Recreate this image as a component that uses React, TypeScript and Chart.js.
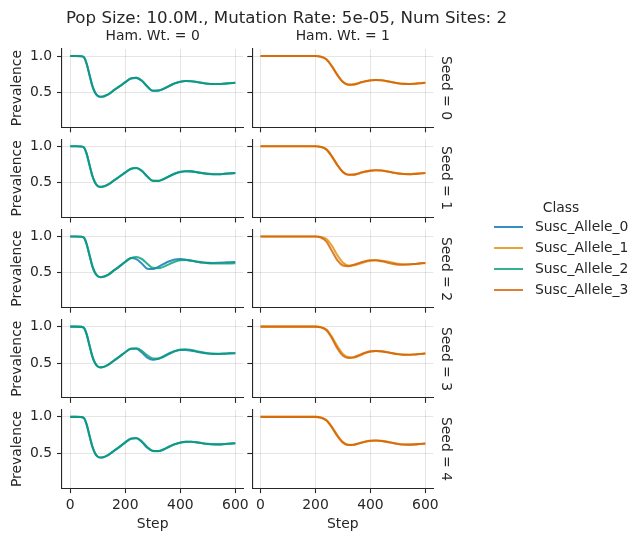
import React, { useEffect, useRef } from 'react';
import { Chart, registerables } from 'chart.js';

Chart.register(...registerables);

const FONT = "'DejaVu Sans', 'Liberation Sans', sans-serif";
const TEXT = '#262626';
Chart.defaults.font.family = FONT;

// ---------- data ----------
const steps = [0, 20, 40, 50, 60, 70, 80, 90, 100, 110, 120, 130, 140, 160, 180, 200, 220, 240, 260, 280, 300, 320, 340, 360, 380, 400, 420, 440, 460, 480, 500, 520, 540, 560, 580, 600];
const seeds = [0, 1, 2, 3, 4];
const hamWts = [0, 1];
const classes = ['Susc_Allele_0', 'Susc_Allele_1', 'Susc_Allele_2', 'Susc_Allele_3'];
const classColors = ['rgba(1,115,178,0.8)', 'rgba(222,143,5,0.8)', 'rgba(2,158,115,0.8)', 'rgba(213,94,0,0.8)'];
const xTicks = [0, 200, 400, 600];
const yTicks = [0.5, 1.0];

// Ham. Wt. = 0 (Susc_Allele_0, Susc_Allele_2)
const s0_a0 = [1.000, 1.000, 0.997, 0.982, 0.890, 0.740, 0.595, 0.500, 0.452, 0.440, 0.445, 0.459, 0.477, 0.535, 0.585, 0.640, 0.690, 0.700, 0.660, 0.580, 0.522, 0.525, 0.552, 0.590, 0.625, 0.647, 0.656, 0.653, 0.643, 0.630, 0.620, 0.615, 0.616, 0.621, 0.627, 0.633];
const s0_a2 = [1.000, 1.000, 0.997, 0.981, 0.888, 0.738, 0.593, 0.499, 0.451, 0.440, 0.445, 0.459, 0.477, 0.534, 0.586, 0.641, 0.691, 0.701, 0.662, 0.582, 0.523, 0.524, 0.550, 0.588, 0.624, 0.647, 0.657, 0.654, 0.644, 0.631, 0.620, 0.615, 0.615, 0.620, 0.626, 0.632];
const s1_a0 = [1.000, 1.000, 0.997, 0.983, 0.892, 0.743, 0.598, 0.502, 0.453, 0.441, 0.445, 0.459, 0.478, 0.533, 0.584, 0.638, 0.688, 0.700, 0.663, 0.585, 0.525, 0.523, 0.549, 0.587, 0.623, 0.646, 0.656, 0.654, 0.644, 0.631, 0.621, 0.616, 0.616, 0.621, 0.627, 0.632];
const s1_a2 = [1.000, 1.000, 0.997, 0.982, 0.891, 0.741, 0.596, 0.501, 0.452, 0.440, 0.445, 0.460, 0.479, 0.535, 0.586, 0.640, 0.690, 0.701, 0.662, 0.583, 0.524, 0.524, 0.550, 0.589, 0.625, 0.648, 0.657, 0.654, 0.643, 0.630, 0.620, 0.615, 0.615, 0.620, 0.626, 0.631];
const s2_a0 = [1.000, 1.000, 0.997, 0.982, 0.890, 0.740, 0.595, 0.500, 0.452, 0.440, 0.445, 0.460, 0.480, 0.536, 0.592, 0.652, 0.703, 0.688, 0.628, 0.556, 0.552, 0.582, 0.622, 0.658, 0.682, 0.688, 0.680, 0.666, 0.652, 0.642, 0.637, 0.636, 0.638, 0.641, 0.645, 0.648];
const s2_a2 = [1.000, 1.000, 0.997, 0.982, 0.890, 0.740, 0.595, 0.500, 0.452, 0.440, 0.445, 0.460, 0.480, 0.536, 0.592, 0.650, 0.700, 0.718, 0.690, 0.625, 0.568, 0.562, 0.585, 0.620, 0.652, 0.672, 0.676, 0.668, 0.655, 0.642, 0.633, 0.628, 0.627, 0.628, 0.630, 0.632];
const s3_a0 = [1.000, 1.000, 0.997, 0.982, 0.890, 0.740, 0.595, 0.500, 0.452, 0.440, 0.445, 0.460, 0.480, 0.536, 0.590, 0.648, 0.695, 0.697, 0.645, 0.575, 0.545, 0.558, 0.595, 0.635, 0.665, 0.680, 0.680, 0.670, 0.655, 0.641, 0.631, 0.626, 0.625, 0.628, 0.632, 0.635];
const s3_a2 = [1.000, 1.000, 0.997, 0.982, 0.890, 0.740, 0.595, 0.500, 0.452, 0.440, 0.445, 0.460, 0.480, 0.536, 0.590, 0.648, 0.695, 0.702, 0.668, 0.605, 0.563, 0.560, 0.585, 0.625, 0.660, 0.684, 0.690, 0.680, 0.663, 0.646, 0.634, 0.628, 0.627, 0.629, 0.633, 0.636];
const s4_a0 = [1.000, 1.000, 0.997, 0.982, 0.890, 0.740, 0.595, 0.500, 0.452, 0.440, 0.445, 0.460, 0.480, 0.536, 0.590, 0.648, 0.700, 0.705, 0.655, 0.575, 0.530, 0.530, 0.555, 0.592, 0.625, 0.647, 0.657, 0.657, 0.649, 0.637, 0.627, 0.621, 0.621, 0.626, 0.632, 0.638];
const s4_a2 = [1.000, 1.000, 0.997, 0.982, 0.890, 0.740, 0.595, 0.500, 0.452, 0.440, 0.445, 0.460, 0.480, 0.536, 0.590, 0.648, 0.700, 0.708, 0.665, 0.585, 0.532, 0.527, 0.550, 0.588, 0.622, 0.645, 0.656, 0.657, 0.650, 0.638, 0.628, 0.622, 0.621, 0.625, 0.631, 0.637];

// Ham. Wt. = 1 (Susc_Allele_1, Susc_Allele_3)
const s0_a1 = [1.000, 1.000, 1.000, 1.000, 1.000, 1.000, 1.000, 1.000, 1.000, 1.000, 1.000, 1.000, 1.000, 1.000, 1.000, 1.000, 0.990, 0.955, 0.860, 0.740, 0.645, 0.607, 0.610, 0.630, 0.651, 0.665, 0.670, 0.667, 0.655, 0.640, 0.626, 0.618, 0.616, 0.620, 0.627, 0.633];
const s0_a3 = [1.000, 1.000, 1.000, 1.000, 1.000, 1.000, 1.000, 1.000, 1.000, 1.000, 1.000, 1.000, 1.000, 1.000, 1.000, 1.000, 0.990, 0.953, 0.857, 0.737, 0.643, 0.606, 0.610, 0.631, 0.652, 0.666, 0.670, 0.666, 0.654, 0.639, 0.625, 0.617, 0.616, 0.620, 0.627, 0.632];
const s1_a1 = [1.000, 1.000, 1.000, 1.000, 1.000, 1.000, 1.000, 1.000, 1.000, 1.000, 1.000, 1.000, 1.000, 1.000, 1.000, 1.000, 0.991, 0.957, 0.862, 0.742, 0.647, 0.608, 0.610, 0.629, 0.650, 0.664, 0.669, 0.666, 0.655, 0.640, 0.627, 0.619, 0.617, 0.620, 0.626, 0.632];
const s1_a3 = [1.000, 1.000, 1.000, 1.000, 1.000, 1.000, 1.000, 1.000, 1.000, 1.000, 1.000, 1.000, 1.000, 1.000, 1.000, 1.000, 0.990, 0.954, 0.858, 0.738, 0.644, 0.607, 0.610, 0.630, 0.651, 0.665, 0.670, 0.666, 0.654, 0.640, 0.626, 0.618, 0.616, 0.620, 0.626, 0.632];
const s2_a1 = [1.000, 1.000, 1.000, 1.000, 1.000, 1.000, 1.000, 1.000, 1.000, 1.000, 1.000, 1.000, 1.000, 1.000, 1.000, 1.000, 0.993, 0.965, 0.870, 0.740, 0.640, 0.600, 0.603, 0.625, 0.650, 0.667, 0.673, 0.667, 0.655, 0.640, 0.625, 0.618, 0.618, 0.622, 0.628, 0.633];
const s2_a3 = [1.000, 1.000, 1.000, 1.000, 1.000, 1.000, 1.000, 1.000, 1.000, 1.000, 1.000, 1.000, 1.000, 1.000, 1.000, 1.000, 0.985, 0.930, 0.800, 0.670, 0.600, 0.590, 0.610, 0.635, 0.660, 0.672, 0.672, 0.660, 0.643, 0.625, 0.612, 0.610, 0.615, 0.622, 0.630, 0.636];
const s3_a1 = [1.000, 1.000, 1.000, 1.000, 1.000, 1.000, 1.000, 1.000, 1.000, 1.000, 1.000, 1.000, 1.000, 1.000, 1.000, 1.000, 0.992, 0.960, 0.860, 0.730, 0.625, 0.580, 0.575, 0.600, 0.635, 0.658, 0.665, 0.662, 0.650, 0.636, 0.623, 0.615, 0.614, 0.618, 0.625, 0.632];
const s3_a3 = [1.000, 1.000, 1.000, 1.000, 1.000, 1.000, 1.000, 1.000, 1.000, 1.000, 1.000, 1.000, 1.000, 1.000, 1.000, 1.000, 0.990, 0.950, 0.840, 0.700, 0.600, 0.570, 0.580, 0.610, 0.640, 0.660, 0.665, 0.660, 0.648, 0.633, 0.620, 0.613, 0.613, 0.618, 0.625, 0.630];
const s4_a1 = [1.000, 1.000, 1.000, 1.000, 1.000, 1.000, 1.000, 1.000, 1.000, 1.000, 1.000, 1.000, 1.000, 1.000, 1.000, 1.000, 0.990, 0.955, 0.862, 0.745, 0.652, 0.615, 0.617, 0.637, 0.657, 0.670, 0.674, 0.670, 0.658, 0.643, 0.629, 0.620, 0.618, 0.621, 0.627, 0.633];
const s4_a3 = [1.000, 1.000, 1.000, 1.000, 1.000, 1.000, 1.000, 1.000, 1.000, 1.000, 1.000, 1.000, 1.000, 1.000, 1.000, 1.000, 0.989, 0.950, 0.852, 0.735, 0.645, 0.612, 0.617, 0.638, 0.658, 0.671, 0.674, 0.669, 0.656, 0.641, 0.627, 0.619, 0.618, 0.621, 0.627, 0.632];

// [seed][hamWt] -> list of [classIndex, values], top-most first
const panelSeries: [number, number[]][][][] = [
  [[[2, s0_a2], [0, s0_a0]], [[3, s0_a3], [1, s0_a1]]],
  [[[2, s1_a2], [0, s1_a0]], [[3, s1_a3], [1, s1_a1]]],
  [[[2, s2_a2], [0, s2_a0]], [[3, s2_a3], [1, s2_a1]]],
  [[[2, s3_a2], [0, s3_a0]], [[3, s3_a3], [1, s3_a1]]],
  [[[2, s4_a2], [0, s4_a0]], [[3, s4_a3], [1, s4_a1]]],
];

// ---------- layout ----------
const FIG_W = 642;
const FIG_H = 541;
const COL_LEFT = [62, 252.3];
const COL_RIGHT = [243.3, 433.3];
const ROW_TOP0 = 49;
const ROW_STEP = 90.2;
const PANEL_H = 78.3;
const X_MIN = -30;
const X_MAX = 629;
const Y_MIN = 0.02;
const Y_MAX = 1.097;
const TICK_FONT = { family: FONT, size: 13.9 };

function Panel({ row, col }: { row: number; col: number }) {
  const ref = useRef<HTMLCanvasElement>(null);
  useEffect(() => {
    if (!ref.current) return;
    const left = COL_LEFT[col];
    const right = COL_RIGHT[col];
    const top = ROW_TOP0 + row * ROW_STEP;
    const bottom = top + PANEL_H;
    const isLeft = col === 0;
    const isBottom = row === seeds.length - 1;
    const yW = isLeft ? left : 10;
    const xH = isBottom ? FIG_H - bottom : 10;
    const series = panelSeries[row][col];
    const gridCommon = {
      color: 'rgba(0,0,0,0.1)',
      lineWidth: 1,
      tickColor: TEXT,
      tickWidth: 1.1,
      tickLength: 5,
      drawTicks: true,
      drawOnChartArea: true,
    };
    const chart = new Chart(ref.current, {
      type: 'line',
      data: {
        datasets: series.map(([cls, values]) => ({
          label: classes[cls],
          data: steps.map((x, i) => ({ x, y: values[i] })),
          borderColor: classColors[cls],
          backgroundColor: classColors[cls],
          borderWidth: 2.08,
          pointRadius: 0,
          cubicInterpolationMode: 'monotone' as const,
          fill: false,
        })),
      },
      options: {
        responsive: false,
        animation: false,
        events: [],
        devicePixelRatio: 1,
        layout: {
          padding: { left: left - yW, top, right: FIG_W - right, bottom: FIG_H - bottom - xH },
        },
        plugins: { legend: { display: false }, tooltip: { enabled: false }, title: { display: false } },
        scales: {
          x: {
            type: 'linear',
            min: X_MIN,
            max: X_MAX,
            afterBuildTicks: (s: any) => {
              s.ticks = xTicks.map((v) => ({ value: v }));
            },
            afterFit: (s: any) => {
              s.height = xH;
              s.paddingLeft = 0;
              s.paddingRight = 0;
            },
            ticks: {
              display: isBottom,
              padding: 4,
              font: TICK_FONT,
              color: TEXT,
              maxRotation: 0,
              autoSkip: false,
              callback: (v: any) => String(v),
            },
            grid: gridCommon,
            border: { display: true, color: TEXT, width: 1.1 },
            title: {
              display: isBottom,
              text: 'Step',
              color: TEXT,
              font: TICK_FONT,
              padding: { top: 0, bottom: 8.2 },
            },
          },
          y: {
            type: 'linear',
            min: Y_MIN,
            max: Y_MAX,
            afterBuildTicks: (s: any) => {
              s.ticks = yTicks.map((v) => ({ value: v }));
            },
            afterFit: (s: any) => {
              s.width = yW;
              s.paddingTop = 0;
              s.paddingBottom = 0;
            },
            ticks: {
              display: isLeft,
              padding: 5,
              font: TICK_FONT,
              color: TEXT,
              autoSkip: false,
              callback: (v: any) => Number(v).toFixed(1),
            },
            grid: gridCommon,
            border: { display: true, color: TEXT, width: 1.1 },
            title: {
              display: isLeft,
              text: 'Prevalence',
              color: TEXT,
              font: TICK_FONT,
              padding: { top: 9, bottom: 0 },
            },
          },
        },
      } as any,
    });
    return () => chart.destroy();
  }, [row, col]);
  return (
    <canvas
      ref={ref}
      width={FIG_W}
      height={FIG_H}
      style={{ position: 'absolute', left: 0, top: 0, width: FIG_W, height: FIG_H }}
    />
  );
}

const baseText = (size: number): React.CSSProperties => ({
  position: 'absolute',
  fontFamily: FONT,
  fontSize: size,
  lineHeight: 1,
  color: TEXT,
  whiteSpace: 'nowrap',
});

export default function App() {
  const legendY0 = 226.7;
  const legendStep = 21.1;
  return (
    <div style={{ position: 'absolute', left: 0, top: 0, width: FIG_W, height: FIG_H, background: '#fff', overflow: 'hidden' }}>
      {seeds.map((_, r) => hamWts.map((_, c) => <Panel key={`${r}-${c}`} row={r} col={c} />))}
      <div style={{ ...baseText(16.67), left: 286.5, top: 9.9, transform: 'translateX(-50%)' }}>
        Pop Size: 10.0M., Mutation Rate: 5e-05, Num Sites: 2
      </div>
      {hamWts.map((h, c) => (
        <div
          key={`ct${h}`}
          style={{ ...baseText(13.9), left: (COL_LEFT[c] + COL_RIGHT[c]) / 2, top: 29.4, transform: 'translateX(-50%)' }}
        >
          {`Ham. Wt. = ${h}`}
        </div>
      ))}
      {seeds.map((s, r) => (
        <div
          key={`rt${s}`}
          style={{
            ...baseText(13.9),
            left: 445.5,
            top: ROW_TOP0 + r * ROW_STEP + PANEL_H / 2,
            transform: 'translate(-50%, -50%) rotate(90deg)',
          }}
        >
          {`Seed = ${s}`}
        </div>
      ))}
      <div style={{ ...baseText(13.9), left: 561, top: 200.9, transform: 'translateX(-50%)' }}>Class</div>
      {classes.map((name, i) => {
        const y = legendY0 + i * legendStep;
        return (
          <React.Fragment key={name}>
            <div style={{ position: 'absolute', left: 494, top: y - 1.04, width: 29.3, height: 2.08, background: classColors[i] }} />
            <div style={{ ...baseText(13.9), left: 535, top: y - 6.76 }}>{name}</div>
          </React.Fragment>
        );
      })}
    </div>
  );
}
